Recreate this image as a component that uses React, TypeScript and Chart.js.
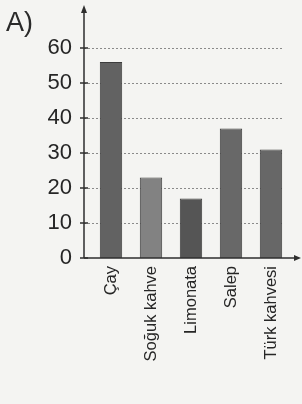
import React, { useEffect, useRef } from "react";
import { Chart, registerables } from "chart.js";

Chart.register(...registerables);

const categories = ["Çay", "Soğuk kahve", "Limonata", "Salep", "Türk kahvesi"];
const values = [56, 23, 17, 37, 31];
const barColors = ["#626262", "#828282", "#555555", "#686868", "#676767"];
const yTicks = [0, 10, 20, 30, 40, 50, 60];
const panelLabel = "A)";

const FONT = "'Liberation Sans', Arial, sans-serif";
const AXIS_X = 84;
const TOP_TICK_Y = 48;

const axisPlugin = {
  id: "axisPlugin",
  beforeDatasetsDraw(chart: any) {
    const { ctx, chartArea } = chart;
    const ys = chart.scales.y;
    ctx.save();
    ctx.strokeStyle = "#8a8a8a";
    ctx.lineWidth = 1;
    ctx.setLineDash([2, 2]);
    yTicks.forEach((t) => {
      if (t === 0) return;
      const py = Math.round(ys.getPixelForValue(t)) + 0.5;
      ctx.beginPath();
      ctx.moveTo(AXIS_X, py);
      ctx.lineTo(chartArea.right - 8, py);
      ctx.stroke();
    });
    ctx.restore();
  },
  afterDraw(chart: any) {
    const { ctx, chartArea } = chart;
    const left = AXIS_X;
    const bottom = chartArea.bottom;
    ctx.save();
    ctx.strokeStyle = "#2e2e2e";
    ctx.fillStyle = "#2e2e2e";
    ctx.lineWidth = 1.5;
    ctx.beginPath();
    ctx.moveTo(left, bottom);
    ctx.lineTo(left, 9);
    ctx.stroke();
    ctx.beginPath();
    ctx.moveTo(left, 5);
    ctx.lineTo(left - 3, 13);
    ctx.lineTo(left + 3, 13);
    ctx.closePath();
    ctx.fill();
    ctx.beginPath();
    ctx.moveTo(left, bottom);
    ctx.lineTo(297, bottom);
    ctx.stroke();
    ctx.beginPath();
    ctx.moveTo(301, bottom);
    ctx.lineTo(294, bottom - 3);
    ctx.lineTo(294, bottom + 3);
    ctx.closePath();
    ctx.fill();
    const ys = chart.scales.y;
    yTicks.forEach((t) => {
      const py = ys.getPixelForValue(t);
      ctx.beginPath();
      ctx.moveTo(left - 4, py);
      ctx.lineTo(left + 4, py);
      ctx.stroke();
    });
    ctx.fillStyle = "#2a2a2a";
    ctx.font = `27px ${FONT}`;
    ctx.textBaseline = "top";
    ctx.textAlign = "left";
    ctx.fillText(panelLabel, 6, 10);
    ctx.restore();
  },
};

export default function App() {
  const ref = useRef<HTMLCanvasElement | null>(null);
  useEffect(() => {
    document.body.style.margin = "0";
    const chart = new Chart(ref.current as HTMLCanvasElement, {
      type: "bar",
      data: {
        labels: categories,
        datasets: [
          {
            data: values,
            backgroundColor: barColors,
            borderColor: "#3c3c3c",
            borderWidth: 1,
            barPercentage: 0.56,
            categoryPercentage: 1,
          },
        ],
      },
      options: {
        animation: false,
        responsive: false,
        layout: { padding: { left: 6, right: 11, top: 0, bottom: 0 } },
        plugins: { legend: { display: false }, tooltip: { enabled: false } },
        scales: {
          x: {
            grid: { display: false },
            border: { display: false },
            ticks: {
              color: "#262626",
              font: { family: FONT, size: 16.5 },
              minRotation: 90,
              maxRotation: 90,
              padding: 0,
              autoSkip: false,
            },
            afterFit(scale: any) {
              scale.height = 146;
            },
          },
          y: {
            min: 0,
            max: 70,
            afterBuildTicks(scale: any) {
              scale.ticks = yTicks.map((v) => ({ value: v }));
            },
            grid: { display: false },
            border: { display: false },
            ticks: {
              color: "#262626",
              font: { family: FONT, size: 22 },
              padding: 11,
            },
            afterFit(scale: any) {
              scale.width = 85;
            },
          },
        },
      },
      plugins: [axisPlugin],
    });
    const { top, bottom } = chart.chartArea;
    const topTick = yTicks[yTicks.length - 1];
    (chart.options.scales as any).y.max = (topTick * (bottom - top)) / (bottom - TOP_TICK_Y);
    chart.update();
    return () => chart.destroy();
  }, []);
  return (
    <div style={{ position: "fixed", left: 0, top: 0, width: 302, height: 404, background: "#f4f4f2" }}>
      <canvas ref={ref} width={302} height={404} />
    </div>
  );
}
